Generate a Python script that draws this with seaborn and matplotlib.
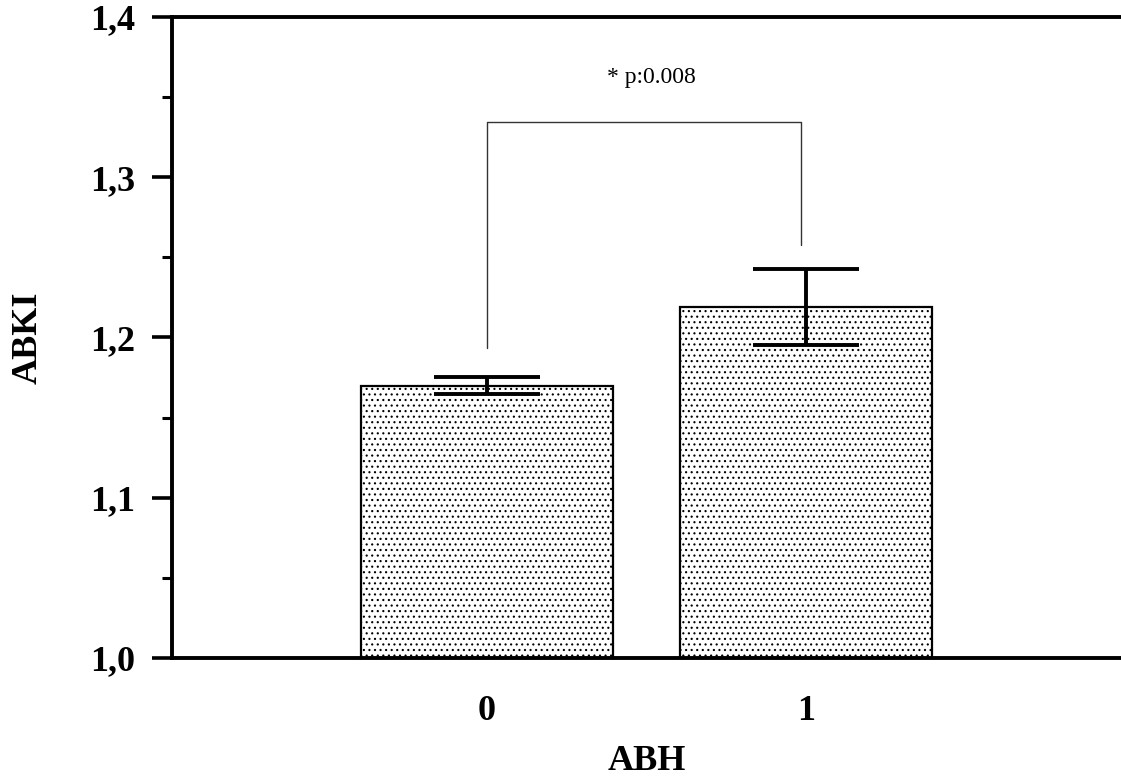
import matplotlib
matplotlib.use("Agg")
import matplotlib.pyplot as plt
import seaborn as sns
import pandas as pd
from matplotlib.ticker import FuncFormatter, MultipleLocator

# Data
categories = ["0", "1"]
means = [1.170, 1.219]
errors = [0.0055, 0.0235]
p_text = "* p:0.008"
bracket_y = 1.3345
bracket_legs = [1.1934, 1.2577]
x_label = "ABH"
y_label = "ABKI"

sns.set_theme(style="white")
plt.rcParams["font.family"] = ["Liberation Serif", "DejaVu Serif"]
plt.rcParams["hatch.color"] = "#555555"
plt.rcParams["hatch.linewidth"] = 0.8
plt.rcParams["text.color"] = "black"
plt.rcParams["axes.labelcolor"] = "black"
plt.rcParams["xtick.color"] = "black"
plt.rcParams["ytick.color"] = "black"

df = pd.DataFrame({"ABH": categories, "ABKI": means})

fig = plt.figure(figsize=(11.21, 7.81), dpi=100)
ax = fig.add_axes([172 / 1121, 123 / 781, 1 - 172 / 1121, 641 / 781])

sns.barplot(data=df, x="ABH", y="ABKI", color="white", width=0.79,
            errorbar=None, edgecolor="black", linewidth=1.6, ax=ax,
            saturation=1)
for p in ax.patches:
    p.set_hatch("...")
    p.set_facecolor("white")
    p.set_edgecolor("black")

xs = list(range(len(categories)))
ax.errorbar(xs, means, yerr=errors, fmt="none", ecolor="black",
            elinewidth=2.8, capsize=38, capthick=2.8, zorder=5)

# significance bracket
ax.plot([0, 0, 0.985, 0.985],
        [bracket_legs[0], bracket_y, bracket_y, bracket_legs[1]],
        color="#333333", lw=1.0, zorder=4)
ax.text(0.516, 1.362, p_text, ha="center", va="center", fontsize=17,
        color="black")

ax.set_xlim(-0.987, 1.987)
ax.set_ylim(1.0, 1.4)
ax.yaxis.set_major_locator(MultipleLocator(0.1))
ax.yaxis.set_minor_locator(MultipleLocator(0.05))
ax.yaxis.set_major_formatter(FuncFormatter(lambda v, pos: f"{v:.1f}".replace(".", ",")))

for s in ["left", "bottom", "top"]:
    ax.spines[s].set_visible(True)
    ax.spines[s].set_color("black")
    ax.spines[s].set_linewidth(2.8)
ax.spines["right"].set_visible(False)

ax.tick_params(axis="y", which="major", length=14.4, width=2.6, direction="out",
               left=True, pad=12, labelsize=26, labelcolor="black", color="black")
ax.tick_params(axis="y", which="minor", length=7.2, width=2.2, direction="out",
               left=True, color="black")
ax.tick_params(axis="x", length=0, pad=27, labelsize=26, labelcolor="black")
for lab in ax.get_xticklabels() + ax.get_yticklabels():
    lab.set_fontweight("bold")

ax.set_xlabel(x_label, fontsize=26, fontweight="bold", labelpad=12, color="black")
ax.set_ylabel(y_label, fontsize=26, fontweight="bold", labelpad=33, color="black")

fig.savefig("out.png", dpi=100)
